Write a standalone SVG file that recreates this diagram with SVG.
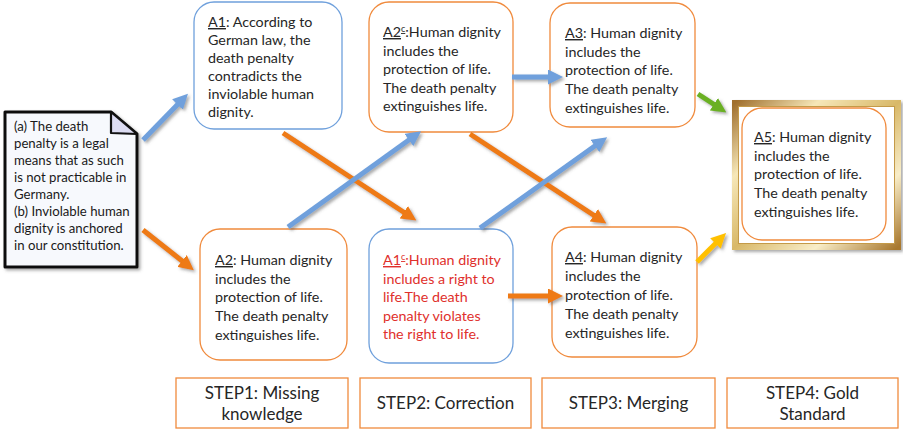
<svg xmlns="http://www.w3.org/2000/svg" width="903" height="431" viewBox="0 0 903 431">
<defs>
<style>
.t{font-family:Lato,"Open Sans","Liberation Sans",sans-serif;font-size:14.3px;fill:#262626}
.d{font-family:Lato,"Open Sans","Liberation Sans",sans-serif;font-size:13.2px;fill:#1a1a1a}
.s{font-family:Lato,"Open Sans","Liberation Sans",sans-serif;font-size:17px;fill:#262626;text-anchor:middle}
.red{fill:#E0302C}
.u{text-decoration:underline}
.bb{fill:#fff;stroke:#6FA0DC;stroke-width:1.3}
.ob{fill:#fff;stroke:#F08A3C;stroke-width:1.3}
.st{fill:#fff;stroke:#F08A3C;stroke-width:1.3}
.ar{stroke-width:5;fill:none}
</style>
<filter id="sh" x="-20%" y="-20%" width="140%" height="140%">
<feDropShadow dx="2" dy="2" stdDeviation="1.5" flood-color="#555" flood-opacity="0.5"/>
</filter>
<marker id="mb" markerWidth="3" markerHeight="3" refX="1" refY="1.5" orient="auto" markerUnits="strokeWidth"><path d="M0,0 L3,1.5 L0,3 Z" fill="#6FA0DC"/></marker>
<marker id="mo" markerWidth="3" markerHeight="3" refX="1" refY="1.5" orient="auto" markerUnits="strokeWidth"><path d="M0,0 L3,1.5 L0,3 Z" fill="#EE7A12"/></marker>
<marker id="mg" markerWidth="3" markerHeight="3" refX="1" refY="1.5" orient="auto" markerUnits="strokeWidth"><path d="M0,0 L3,1.5 L0,3 Z" fill="#6AB023"/></marker>
<marker id="my" markerWidth="3" markerHeight="3" refX="1" refY="1.5" orient="auto" markerUnits="strokeWidth"><path d="M0,0 L3,1.5 L0,3 Z" fill="#FFC000"/></marker>
<linearGradient id="gold" x1="0" y1="0" x2="1" y2="1">
<stop offset="0" stop-color="#A0702E"/>
<stop offset="0.25" stop-color="#F6E7B8"/>
<stop offset="0.5" stop-color="#D8B868"/>
<stop offset="0.75" stop-color="#F8EDC8"/>
<stop offset="1" stop-color="#A8782E"/>
</linearGradient>
</defs>
<rect width="903" height="431" fill="#fff"/>

<g id="doc">
<path d="M5,112 L111,112 L137,134 L137,267 L5,267 Z" fill="#F7F9FD" stroke="#111" stroke-width="3" stroke-linejoin="round" filter="url(#sh)"/>
<path d="M111,112 L111,133 L137,134 Z" fill="#DCDCF2" stroke="#111" stroke-width="2.2" stroke-linejoin="round"/>
<text class="d" x="14" y="131">(a) The death</text>
<text class="d" x="14" y="148">penalty is a legal</text>
<text class="d" x="14" y="165">means that as such</text>
<text class="d" x="14" y="182">is not practicable in</text>
<text class="d" x="14" y="199">Germany.</text>
<text class="d" x="14" y="216">(b) Inviolable human</text>
<text class="d" x="14" y="233">dignity is anchored</text>
<text class="d" x="14" y="250">in our constitution.</text>
</g>

<g id="A1">
<rect class="bb" x="194" y="2" width="148" height="127" rx="20"/>
<text class="t" x="208" y="27"><tspan class="u">A1</tspan>: According to</text>
<text class="t" x="208" y="45">German law, the</text>
<text class="t" x="208" y="63">death penalty</text>
<text class="t" x="208" y="81">contradicts the</text>
<text class="t" x="208" y="99">inviolable human</text>
<text class="t" x="208" y="117">dignity.</text>
</g>

<g id="A2c">
<rect class="ob" x="369" y="2" width="144" height="130" rx="20"/>
<text class="t" x="383" y="37"><tspan class="u">A2<tspan font-size="9" baseline-shift="super">c</tspan></tspan>:Human dignity</text>
<text class="t" x="383" y="55.5">includes the</text>
<text class="t" x="383" y="74">protection of life.</text>
<text class="t" x="383" y="92.5">The death penalty</text>
<text class="t" x="383" y="111">extinguishes life.</text>
</g>

<g id="A3">
<rect class="ob" x="550" y="3" width="145" height="124" rx="20"/>
<text class="t" x="565" y="38"><tspan class="u">A3</tspan>: Human dignity</text>
<text class="t" x="565" y="56.7">includes the</text>
<text class="t" x="565" y="75.4">protection of life.</text>
<text class="t" x="565" y="94">The death penalty</text>
<text class="t" x="565" y="112.8">extinguishes life.</text>
</g>

<g id="A5">
<rect x="735" y="103" width="163" height="144" fill="none" stroke="url(#gold)" stroke-width="6" filter="url(#sh)"/>
<rect x="738.5" y="106.5" width="156" height="137" fill="#fff" stroke="#C49A48" stroke-width="1"/>
<rect class="ob" x="742" y="108" width="144" height="132" rx="20"/>
<text class="t" x="754" y="142"><tspan class="u">A5</tspan>: Human dignity</text>
<text class="t" x="754" y="160.7">includes the</text>
<text class="t" x="754" y="179.4">protection of life.</text>
<text class="t" x="754" y="198">The death penalty</text>
<text class="t" x="754" y="216.8">extinguishes life.</text>
</g>

<g id="A2">
<rect class="ob" x="200" y="229" width="147" height="131" rx="20"/>
<text class="t" x="215" y="265"><tspan class="u">A2</tspan>: Human dignity</text>
<text class="t" x="215" y="283.7">includes the</text>
<text class="t" x="215" y="302.4">protection of life.</text>
<text class="t" x="215" y="321">The death penalty</text>
<text class="t" x="215" y="339.8">extinguishes life.</text>
</g>

<g id="A1c">
<rect class="bb" x="369" y="229" width="144" height="134" rx="20"/>
<text class="t red" x="383" y="265"><tspan class="u">A1<tspan font-size="9" baseline-shift="super">c</tspan></tspan>:Human dignity</text>
<text class="t red" x="383" y="283.5">includes a right to</text>
<text class="t red" x="383" y="302">life.The death</text>
<text class="t red" x="383" y="320.5">penalty violates</text>
<text class="t red" x="383" y="339">the right to life.</text>
</g>

<g id="A4">
<rect class="ob" x="552" y="227" width="145" height="130" rx="20"/>
<text class="t" x="565" y="262"><tspan class="u">A4</tspan>: Human dignity</text>
<text class="t" x="565" y="280.9">includes the</text>
<text class="t" x="565" y="299.8">protection of life.</text>
<text class="t" x="565" y="318.7">The death penalty</text>
<text class="t" x="565" y="337.6">extinguishes life.</text>
</g>

<g id="step1"><rect class="st" x="176" y="378" width="172" height="50"/><text class="s" x="262" y="399">STEP1: Missing</text><text class="s" x="262" y="420">knowledge</text></g>
<g id="step2"><rect class="st" x="360" y="378" width="171" height="50"/><text class="s" x="445.5" y="409">STEP2: Correction</text></g>
<g id="step3"><rect class="st" x="542" y="378" width="173" height="50"/><text class="s" x="628.5" y="409">STEP3: Merging</text></g>
<g id="step4"><rect class="st" x="727" y="378" width="171" height="50"/><text class="s" x="812.5" y="399">STEP4: Gold</text><text class="s" x="812.5" y="420">Standard</text></g>

<g id="connectors" filter="url(#sh)">
<line class="ar" x1="143" y1="140" x2="181" y2="101" stroke="#6FA0DC" marker-end="url(#mb)"/>
<line class="ar" x1="143" y1="230" x2="186" y2="264" stroke="#EE7A12" marker-end="url(#mo)"/>
<line class="ar" x1="283" y1="133" x2="408" y2="215" stroke="#EE7A12" marker-end="url(#mo)"/>
<line class="ar" x1="288" y1="227" x2="413" y2="137" stroke="#6FA0DC" marker-end="url(#mb)"/>
<line class="ar" x1="512" y1="77" x2="553" y2="77" stroke="#6FA0DC" marker-end="url(#mb)"/>
<line class="ar" x1="470" y1="134" x2="598" y2="218" stroke="#EE7A12" marker-end="url(#mo)"/>
<line class="ar" x1="480" y1="228" x2="599" y2="143" stroke="#6FA0DC" marker-end="url(#mb)"/>
<line class="ar" x1="508" y1="296" x2="553" y2="296" stroke="#EE7A12" marker-end="url(#mo)"/>
<line class="ar" x1="698" y1="94" x2="718" y2="107" stroke="#6AB023" marker-end="url(#mg)"/>
<line class="ar" x1="697" y1="262" x2="719" y2="240" stroke="#FFC000" marker-end="url(#my)"/>
</g>
</svg>
